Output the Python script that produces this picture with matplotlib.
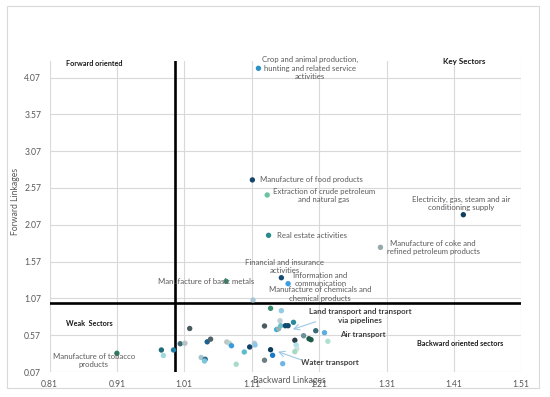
import matplotlib
matplotlib.use("Agg")
import matplotlib.pyplot as plt
from matplotlib.patches import Rectangle

plt.rcParams['font.family'] = ['Lato', 'DejaVu Sans']

# ---- data ----
x_ticks = [0.81, 0.91, 1.01, 1.11, 1.21, 1.31, 1.41, 1.51]
y_ticks = [0.07, 0.57, 1.07, 1.57, 2.07, 2.57, 3.07, 3.57, 4.07]

labeled_names = [
    "Crop and animal production,\nhunting and related service\nactivities",
    "Manufacture of food products",
    "Extraction of crude petroleum\nand natural gas",
    "Real estate activities",
    "Manufacture of coke and\nrefined petroleum products",
    "Electricity, gas, steam and air\nconditioning supply",
    "Financial and insurance\nactivities",
    "Information and\ncommunication",
    "Manufacture of basic metals",
    "Manufacture of chemicals and\nchemical products",
    "Manufacture of tobacco\nproducts",
]
labeled_bl = [1.120, 1.111, 1.133, 1.135, 1.301, 1.424, 1.154, 1.164, 1.072, 1.112, 0.910]
labeled_fl = [4.196, 2.680, 2.475, 1.927, 1.764, 2.207, 1.351, 1.270, 1.302, 1.048, 0.324]
labeled_colors = ['#2a93c4', '#14466b', '#6cc3a0', '#2a8a8c', '#93a9aa', '#103e5d',
                  '#174c72', '#3d9de2', '#3a8c6c', '#a9c8d4', '#2b7c5c']

other_bl = [0.976, 0.979, 0.994, 1.004, 1.011, 1.018, 1.035, 1.041, 1.040, 1.044,
            1.049, 1.073, 1.077, 1.080, 1.087, 1.099, 1.107, 1.114, 1.115, 1.129,
            1.129, 1.138, 1.138, 1.141, 1.147, 1.150, 1.152, 1.154, 1.153, 1.160,
            1.164, 1.172, 1.156, 1.174, 1.176, 1.177, 1.174, 1.187, 1.195, 1.198,
            1.205, 1.218, 1.223]
other_fl = [0.369, 0.294, 0.369, 0.454, 0.460, 0.661, 0.267, 0.243, 0.219, 0.480,
            0.516, 0.478, 0.460, 0.427, 0.175, 0.342, 0.410, 0.460, 0.437, 0.230,
            0.695, 0.935, 0.373, 0.297, 0.647, 0.658, 0.767, 0.903, 0.699, 0.699,
            0.699, 0.745, 0.183, 0.501, 0.437, 0.387, 0.346, 0.563, 0.522, 0.509,
            0.631, 0.604, 0.487]
other_colors = ['#1f6b7a', '#9ed9e0', '#1f7fa8', '#3d6b7a', '#b5c4c4', '#4a5a5e',
                '#a8c4cc', '#2a6a8a', '#7ec5e0', '#1d5f8f', '#4e6068', '#bcc6c6',
                '#b8d0c8', '#3a9ae0', '#a8dcc8', '#5cbcc8', '#12446a', '#b8c8cc',
                '#8ec8e8', '#6e7e80', '#4a5a5e', '#3a9070', '#0f3d5c', '#1a78c8',
                '#3ab0d0', '#9ab0b4', '#c0d0d4', '#90cce8', '#70c0c8', '#154a70',
                '#154a70', '#2a8a9a', '#70b4e8', '#2a3c44', '#b0e0e8', '#c8e4e0',
                '#a8d8c4', '#6a9098', '#1d5a4a', '#1d5a4a', '#3a6a7a', '#5aaee0',
                '#b0e0d0']

mean_bl = 0.996
mean_fl = 1.003

# ---- figure ----
fig = plt.figure(figsize=(5.5, 3.97), dpi=100)
fig.patches.append(Rectangle((7/550, 1-388/397), 532/550, 382/397, transform=fig.transFigure,
                             fill=False, edgecolor='#d9d9d9', linewidth=0.8))
ax = fig.add_axes([49.5/550, 1-372/397, 471.8/550, 310.6/397])
ax.set_xlim(0.81, 1.51)
ax.set_ylim(0.07, 4.29)
ax.set_xticks(x_ticks)
ax.set_yticks(y_ticks)
ax.set_xticklabels([f"{v:.2f}" for v in x_ticks])
ax.set_yticklabels([f"{v:.2f}" for v in y_ticks])
ax.grid(True, color='#d9d9d9', linewidth=0.8)
ax.set_axisbelow(True)
for s in ax.spines.values():
    s.set_visible(False)
ax.tick_params(length=0, labelsize=6.2, labelcolor='#595959', pad=6)

ax.axvline(mean_bl, color='black', linewidth=1.9, zorder=2)
ax.axhline(mean_fl, color='black', linewidth=1.9, zorder=2)

ax.scatter(other_bl, other_fl, s=15, c=other_colors, linewidths=0, zorder=3)
ax.scatter(labeled_bl, labeled_fl, s=15, c=labeled_colors, linewidths=0, zorder=3)

tc = '#595959'
fs = 5.6
# label positions (text placement)
lab_pos = [
    (1.197, 4.196, 'center'),
    (1.122, 2.679, 'left'),
    (1.217, 2.468, 'center'),
    (1.147, 1.927, 'left'),
    (1.379, 1.762, 'center'),
    (1.420, 2.357, 'center'),
    (1.159, 1.506, 'center'),
    (1.212, 1.324, 'center'),
    (1.042, 1.306, 'center'),
    (1.211, 1.132, 'center'),
    (0.876, 0.229, 'center'),
]
for name, (lx, ly, ha) in zip(labeled_names, lab_pos):
    ax.text(lx, ly, name, ha=ha, va='center', fontsize=fs, color=tc,
            multialignment='center', linespacing=1.25, zorder=4)

bold_kw = dict(fontsize=5.2, fontweight='bold', color='#1a1a1a', va='center', ha='center', zorder=4)
ax.text(0.876, 4.268, "Forward oriented", **bold_kw)
ax.text(1.426, 4.282, "Key Sectors", **dict(bold_kw, fontsize=5.8))
ax.text(0.869, 0.732, "Weak  Sectors", **bold_kw)
ax.text(1.419, 0.464, "Backward oriented sectors", **bold_kw)
ax.text(1.271, 0.831, "Land transport and transport\nvia pipelines", multialignment='center',
        linespacing=1.3, **dict(bold_kw, color='#404040', fontsize=5.8))
ax.text(1.275, 0.582, "Air transport", **dict(bold_kw, color='#404040', fontsize=5.8))
ax.text(1.226, 0.196, "Water transport", **dict(bold_kw, color='#404040', fontsize=5.8))

arrow_kw = dict(arrowstyle='->', color='#9dc8e6', lw=0.8, shrinkA=0, shrinkB=0)
ax.annotate("", xy=(1.171, 0.650), xytext=(1.205, 0.753), arrowprops=arrow_kw, zorder=4)
ax.annotate("", xy=(1.149, 0.346), xytext=(1.184, 0.233), arrowprops=arrow_kw, zorder=4)

ax.text(-0.0731, 0.549, "Forward Linkages", rotation=90, transform=ax.transAxes,
        ha='center', va='center', fontsize=6.2, color=tc)
ax.text(0.5076, -0.0258, "Backward Linkages", transform=ax.transAxes,
        ha='center', va='center', fontsize=6.2, color=tc)

fig.savefig("out.png", dpi=100)
